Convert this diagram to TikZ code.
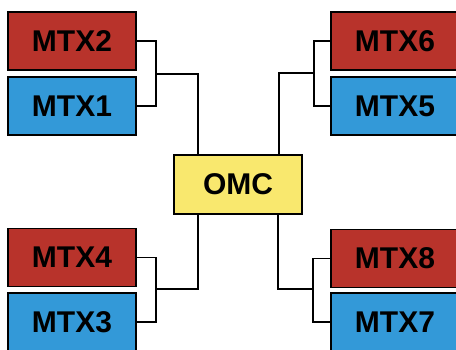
\documentclass[tikz,border=0pt]{standalone}
\usepackage{fontspec}
\setmainfont{Liberation Sans}
\definecolor{boxred}{HTML}{B8332B}
\definecolor{boxblue}{HTML}{3399D8}
\definecolor{boxyel}{HTML}{F9E86E}
\begin{document}
\begin{tikzpicture}[x=1pt,y=-1pt,
  box/.style={draw=black,line width=1.4pt,minimum width=128pt,minimum height=58pt,inner sep=0pt,font=\fontsize{30}{30}\selectfont\bfseries,text=black},
  redbox/.style={box,fill=boxred},
  bluebox/.style={box,fill=boxblue},
  conn/.style={draw=black,line width=1.2pt}]
\clip (0,0) rectangle (456,349);
\fill[white] (0,0) rectangle (456,349);
\node[redbox] (m2) at (72,41) {MTX2};
\node[bluebox] (m1) at (72,106) {MTX1};
\node[redbox] (m4) at (72,257.5) {MTX4};
\node[bluebox] (m3) at (72,322) {MTX3};
\node[redbox,line width=2.6pt] (m6) at (395,41) {MTX6};
\node[bluebox] (m5) at (395,106) {MTX5};
\node[redbox] (m8) at (395,258.5) {MTX8};
\node[bluebox] (m7) at (395,322) {MTX7};
\node[box,fill=boxyel,minimum height=59pt] (omc) at (238,184.5) {OMC};
\coordinate (ja) at (156,74);
\coordinate (jb) at (314,73);
\coordinate (jc) at (156,289);
\coordinate (jd) at (313,289);
\coordinate (oa) at (198,155);
\coordinate (ob) at (279,155);
\coordinate (oc) at (198,214);
\coordinate (od) at (278,214);
\draw[conn] (m2.east) -| (ja) |- (m1.east);
\draw[conn] (ja) -| (oa);
\draw[conn] (m6.west) -| (jb) |- (m5.west);
\draw[conn] (jb) -| (ob);
\draw[conn] (m4.east) -| (jc) |- (m3.east);
\draw[conn] (jc) -| (oc);
\draw[conn] (m8.west) -| (jd) |- (m7.west);
\draw[conn] (jd) -| (od);
\end{tikzpicture}
\end{document}
